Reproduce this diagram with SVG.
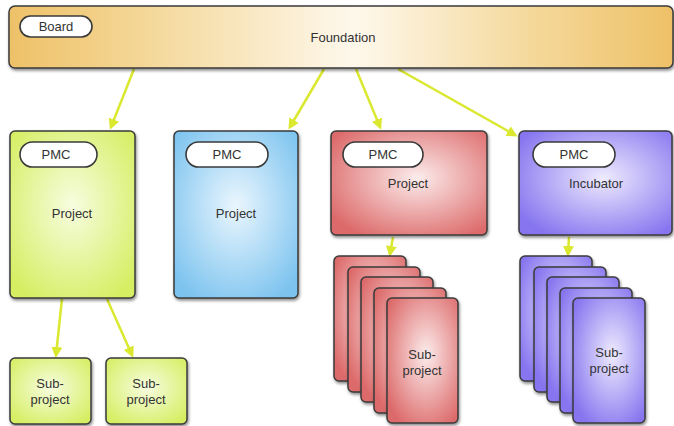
<svg xmlns="http://www.w3.org/2000/svg" width="674" height="426" viewBox="0 0 674 426">
<defs>
<style>
.t{font-family:"Liberation Sans",Arial,sans-serif;font-size:13px;fill:#333;text-anchor:middle;dominant-baseline:central}
.box{stroke:#3a3a3a;stroke-width:1.5;filter:url(#sh)}
.pill{fill:#fff;stroke:#3a3a3a;stroke-width:1.6}
.c{stroke:#dbe830;stroke-width:2.5;fill:none;marker-end:url(#ah)}
</style>
<filter id="sh" x="-10%" y="-10%" width="130%" height="130%"><feDropShadow dx="1" dy="2" stdDeviation="1.5" flood-color="#000" flood-opacity="0.45"/></filter>
<marker id="ah" markerWidth="11" markerHeight="11" refX="8" refY="5.5" orient="auto" markerUnits="userSpaceOnUse"><path d="M0,0 L11,5.5 L0,11 Z" fill="#dbe830"/></marker>
<linearGradient id="gF" x1="0" y1="0" x2="1" y2="0"><stop offset="0" stop-color="#eec168"/><stop offset="0.2" stop-color="#f4d797"/><stop offset="0.52" stop-color="#fef8ec"/><stop offset="0.8" stop-color="#f4d797"/><stop offset="1" stop-color="#eec168"/></linearGradient>
<radialGradient id="gG" cx="0.5" cy="0.45" r="0.65"><stop offset="0" stop-color="#f7fde0"/><stop offset="1" stop-color="#d5ee62"/></radialGradient>
<radialGradient id="gB" cx="0.5" cy="0.45" r="0.65"><stop offset="0" stop-color="#eaf6fe"/><stop offset="1" stop-color="#7cc3ef"/></radialGradient>
<radialGradient id="gR" cx="0.55" cy="0.45" r="0.65"><stop offset="0" stop-color="#fcecec"/><stop offset="1" stop-color="#dd6b6b"/></radialGradient>
<radialGradient id="gP" cx="0.55" cy="0.45" r="0.65"><stop offset="0" stop-color="#eeebfe"/><stop offset="1" stop-color="#8675ef"/></radialGradient>
</defs>

<g id="connectors">
<line class="c" x1="134" y1="69" x2="111" y2="127"/>
<line class="c" x1="324" y1="69" x2="290" y2="127"/>
<line class="c" x1="356" y1="69" x2="380" y2="127"/>
<line class="c" x1="398" y1="69" x2="515" y2="135"/>
<line class="c" x1="393" y1="237" x2="390" y2="254"/>
<line class="c" x1="569" y1="237" x2="568" y2="254"/>
<line class="c" x1="62" y1="299" x2="56" y2="355"/>
<line class="c" x1="107" y1="299" x2="132" y2="355"/>
</g>

<g id="foundation">
<rect class="box" x="9" y="6" width="664" height="62" rx="6" fill="url(#gF)"/>
<rect class="pill" x="20" y="16" width="72" height="21" rx="10.5"/>
<text class="t" x="56" y="26.5">Board</text>
<text class="t" x="343" y="37">Foundation</text>
</g>

<g id="pmc-green">
<rect class="box" x="10" y="131" width="125" height="167" rx="5" fill="url(#gG)"/>
<rect class="pill" x="20" y="142" width="77" height="25" rx="12.5"/>
<text class="t" x="56" y="154.5">PMC</text>
<text class="t" x="72" y="213">Project</text>
</g>

<g id="pmc-blue">
<rect class="box" x="174" y="131" width="124" height="167" rx="5" fill="url(#gB)"/>
<rect class="pill" x="186" y="142" width="82" height="25" rx="12.5"/>
<text class="t" x="227" y="154.5">PMC</text>
<text class="t" x="236" y="213">Project</text>
</g>

<g id="pmc-red">
<rect class="box" x="331" y="131" width="156" height="104" rx="5" fill="url(#gR)"/>
<rect class="pill" x="343" y="142" width="80" height="25" rx="12.5"/>
<text class="t" x="383" y="154.5">PMC</text>
<text class="t" x="408" y="183">Project</text>
</g>

<g id="pmc-purple">
<rect class="box" x="519" y="131" width="153" height="104" rx="5" fill="url(#gP)"/>
<rect class="pill" x="533" y="142" width="82" height="25" rx="12.5"/>
<text class="t" x="574" y="154.5">PMC</text>
<text class="t" x="596" y="183">Incubator</text>
</g>

<g id="sub-green-1">
<rect class="box" x="10" y="358" width="81" height="66" rx="5" fill="url(#gG)"/>
<text class="t" x="50" y="383">Sub-</text>
<text class="t" x="50" y="399">project</text>
</g>

<g id="sub-green-2">
<rect class="box" x="106" y="358" width="81" height="66" rx="5" fill="url(#gG)"/>
<text class="t" x="146" y="383">Sub-</text>
<text class="t" x="146" y="399">project</text>
</g>

<g id="sub-red-stack">
<rect class="box" x="334" y="256" width="72" height="125" rx="5" fill="url(#gR)"/>
<rect class="box" x="348" y="267" width="72" height="125" rx="5" fill="url(#gR)"/>
<rect class="box" x="361" y="277" width="72" height="125" rx="5" fill="url(#gR)"/>
<rect class="box" x="374" y="288" width="72" height="125" rx="5" fill="url(#gR)"/>
<rect class="box" x="387" y="298" width="71" height="125" rx="5" fill="url(#gR)"/>
<text class="t" x="422" y="354">Sub-</text>
<text class="t" x="422" y="370">project</text>
</g>

<g id="sub-purple-stack">
<rect class="box" x="520" y="256" width="72" height="125" rx="5" fill="url(#gP)"/>
<rect class="box" x="534" y="267" width="72" height="125" rx="5" fill="url(#gP)"/>
<rect class="box" x="547" y="277" width="72" height="125" rx="5" fill="url(#gP)"/>
<rect class="box" x="560" y="288" width="72" height="125" rx="5" fill="url(#gP)"/>
<rect class="box" x="573" y="298" width="72" height="125" rx="5" fill="url(#gP)"/>
<text class="t" x="609" y="352">Sub-</text>
<text class="t" x="609" y="368">project</text>
</g>
</svg>
